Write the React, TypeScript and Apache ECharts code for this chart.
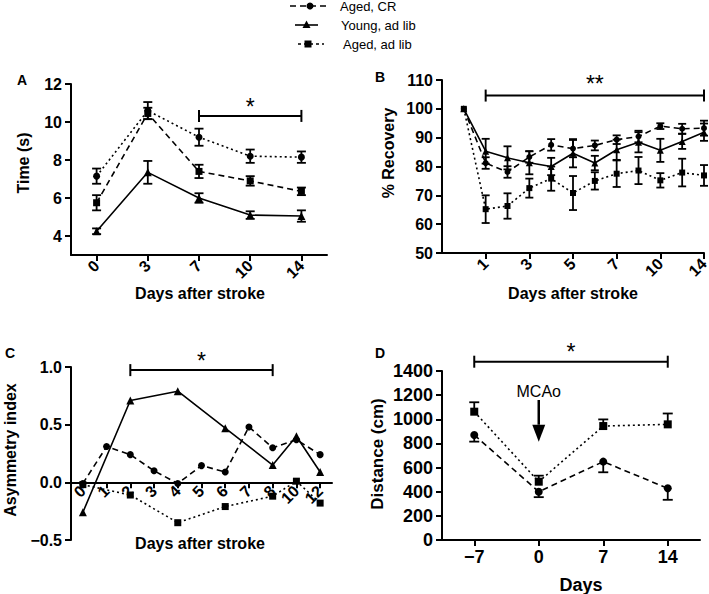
import React, { useEffect, useRef } from 'react';
import * as echarts from 'echarts';

const FONT = "'Liberation Sans', Arial, Helvetica, sans-serif";
const INK = '#000';

// ---------- legend ----------
const legendLabels = ['Aged, CR', 'Young, ad lib', 'Aged, ad lib'];

// ---------- Panel A : Time (s) ----------
const aDays = ['0', '3', '7', '10', '14'];
const aTop = [7.15, 10.6, 9.2, 8.2, 8.15]; // dotted, circles
const aTopErr = [0.4, 0.45, 0.45, 0.35, 0.3];
const aMid = [5.75, 10.45, 7.4, 6.9, 6.35]; // dashed, squares
const aMidErr = [0.4, 0.3, 0.35, 0.25, 0.2];
const aYoung = [4.25, 7.35, 6.0, 5.1, 5.05]; // solid, triangles
const aYoungErr = [0.15, 0.6, 0.25, 0.2, 0.3];
const aTickValues = [4, 6, 8, 10, 12];

// ---------- Panel B : % Recovery ----------
const bDays = ['0', '1', '2', '3', '4', '5', '6', '7', '8', '10', '12', '14'];
const bShown = ['1', '3', '5', '7', '10', '14'];
const bCR = [100, 81.2, 78.1, 83.3, 87.5, 86.2, 87.3, 89.3, 90.4, 94.0, 93.1, 93.3];
const bCRErr = [0, 2, 2, 2, 2, 3, 1.7, 1.5, 2, 1, 1.7, 2.6];
const bYoung = [100, 85.3, 83.0, 81.3, 80.0, 84.6, 81.2, 85.8, 88.4, 85.6, 88.7, 91.9];
const bYoungErr = [0, 4.3, 4, 4, 3, 4.9, 2.5, 3.5, 3.5, 4, 2.6, 3];
const bAdLib = [100, 65.2, 66.3, 72.5, 75.8, 70.8, 75.0, 77.5, 78.6, 75.2, 77.9, 76.9];
const bAdLibErr = [0, 4.8, 4.4, 3.3, 4.2, 5.9, 3, 4.6, 4.7, 2.5, 4.8, 3.6];

// ---------- Panel C : Asymmetry index ----------
const cDays = ['0', '1', '2', '3', '4', '5', '6', '7', '8', '10', '12'];
const cCR = [-0.01, 0.31, 0.24, 0.1, -0.01, 0.145, 0.09, 0.48, 0.3, 0.37, 0.24];
const cYoung = [-0.26, null, 0.71, null, 0.79, null, 0.47, null, 0.15, 0.4, 0.09];
const cAdLib = [-0.02, null, -0.11, null, -0.35, null, -0.21, null, -0.12, 0.01, -0.18];

// ---------- Panel D : Distance (cm) ----------
const dDays = ['\u22127', '0', '7', '14'];
const dAdLib = [1063, 483, 944, 958];
const dAdLibErrUp = [78, 50, 55, 90];
const dCR = [870, 400, 649, 428];
const dCRErrDown = [55, 45, 88, 95];

// ---------- significance brackets: [fromIndex, y, toIndex] ----------
const sigA = [2, 10.32, 4];
const sigB = [2, 104.6, 12];
const sigC = [2, 0.973, 8];
const sigD = [0, 1477, 3];
const sigLabels = ['*', '**', '*', '*'];

// ---------- MCAo arrow: [xIndex, textY, lineTop, tip, headBase] ----------
const mcao = [1, 1229, 1160, 814, 955];

function errData(vals: (number | null)[], up: number[], down: number[], offset = 0) {
  const out: number[][] = [];
  vals.forEach((v, i) => {
    if (v == null) return;
    const u = up[i] || 0;
    const d = down[i] || 0;
    if (!u && !d) return;
    out.push([i + offset, v, u, d]);
  });
  return out;
}

const errSeries = (ax: number, data: number[][], cap = 4.5) => ({
  type: 'custom',
  xAxisIndex: ax,
  yAxisIndex: ax,
  data,
  silent: true,
  clip: false,
  z: 3,
  renderItem: (_p: any, api: any) => {
    const x = api.value(0);
    const y = api.value(1);
    const up = api.value(2);
    const dn = api.value(3);
    const t = api.coord([x, y + up]);
    const b = api.coord([x, y - dn]);
    const st = { stroke: INK, lineWidth: 1.8 };
    const ch: any[] = [{ type: 'line', shape: { x1: t[0], y1: t[1], x2: b[0], y2: b[1] }, style: st }];
    if (up > 0) ch.push({ type: 'line', shape: { x1: t[0] - cap, y1: t[1], x2: t[0] + cap, y2: t[1] }, style: st });
    if (dn > 0) ch.push({ type: 'line', shape: { x1: b[0] - cap, y1: b[1], x2: b[0] + cap, y2: b[1] }, style: st });
    return { type: 'group', children: ch };
  },
});

const sigSeries = (ax: number, item: number[], label: string, lift = 9, fontSize = 23) => ({
  type: 'custom',
  xAxisIndex: ax,
  yAxisIndex: ax,
  data: [item],
  silent: true,
  clip: false,
  z: 5,
  renderItem: (_p: any, api: any) => {
    const p1 = api.coord([api.value(0), api.value(1)]);
    const p2 = api.coord([api.value(2), api.value(1)]);
    const st = { stroke: INK, lineWidth: 2 };
    return {
      type: 'group',
      children: [
        { type: 'line', shape: { x1: p1[0], y1: p1[1], x2: p2[0], y2: p2[1] }, style: st },
        { type: 'line', shape: { x1: p1[0], y1: p1[1] - 6, x2: p1[0], y2: p1[1] + 6 }, style: st },
        { type: 'line', shape: { x1: p2[0], y1: p2[1] - 6, x2: p2[0], y2: p2[1] + 6 }, style: st },
        {
          type: 'text',
          x: (p1[0] + p2[0]) / 2,
          y: p1[1] - lift,
          style: { text: label, fontSize, fontFamily: FONT, fill: INK, align: 'center', verticalAlign: 'middle' },
        },
      ],
    };
  },
});

const lineSeries = (ax: number, name: string, data: (number | null)[], symbol: string, size: number, dash: any) => ({
  type: 'line',
  name,
  xAxisIndex: ax,
  yAxisIndex: ax,
  data,
  symbol,
  symbolSize: size,
  connectNulls: true,
  silent: true,
  z: 4,
  itemStyle: { color: INK },
  lineStyle: { color: INK, width: 1.6, type: dash },
});

const DASHED = [6, 4];
const DOTTED = [2, 3];

function yAxis(grid: number, min: number, max: number, interval: number, fontSize: number, extra: any = {}) {
  return {
    type: 'value',
    gridIndex: grid,
    min,
    max,
    interval,
    axisLine: { show: true, lineStyle: { color: INK, width: 2 } },
    axisTick: { show: true, length: 6, lineStyle: { color: INK, width: 2 }, ...(extra.tick || {}) },
    axisLabel: {
      color: INK,
      fontWeight: 'bold',
      fontSize,
      fontFamily: FONT,
      margin: 9,
      formatter: (v: number) => String(v),
      ...(extra.label || {}),
    },
    splitLine: { show: false },
  };
}

function xAxis(grid: number, data: string[], fontSize: number, extra: any = {}) {
  return {
    type: 'category',
    gridIndex: grid,
    data,
    offset: extra.offset || 0,
    boundaryGap: extra.boundaryGap !== undefined ? extra.boundaryGap : true,
    axisLine: { show: true, onZero: false, lineStyle: { color: INK, width: 2 } },
    axisTick: { show: true, length: 6, alignWithLabel: true, interval: 0, lineStyle: { color: INK, width: 2 }, ...(extra.tick || {}) },
    axisLabel: {
      color: INK,
      fontWeight: 'bold',
      fontSize,
      fontFamily: FONT,
      margin: 8,
      interval: 0,
      ...(extra.label || {}),
    },
    splitLine: { show: false },
  };
}

function txt(text: string, x: number, y: number, fontSize: number, opts: any = {}) {
  return {
    type: 'text',
    x,
    y,
    rotation: opts.rotation || 0,
    silent: true,
    style: {
      text,
      fontSize,
      fontFamily: FONT,
      fontWeight: opts.weight || 'bold',
      fill: INK,
      align: opts.align || 'center',
      verticalAlign: 'middle',
    },
  };
}

function legendGraphic() {
  const rows = [
    { y: 6, x1: 290, x2: 327, mx: 310, dash: DASHED, sym: 'circle', tx: 340 },
    { y: 25, x1: 295, x2: 318, mx: 306.5, dash: null, sym: 'triangle', tx: 341 },
    { y: 44, x1: 298, x2: 324, mx: 308, dash: [3, 3], sym: 'rect', tx: 343 },
  ];
  const els: any[] = [];
  rows.forEach((r, i) => {
    els.push({
      type: 'line',
      silent: true,
      shape: { x1: r.x1, y1: r.y, x2: r.x2, y2: r.y },
      style: { stroke: INK, lineWidth: 1.6, lineDash: r.dash || undefined },
    });
    if (r.sym === 'circle') els.push({ type: 'circle', silent: true, shape: { cx: r.mx, cy: r.y, r: 3.5 }, style: { fill: INK } });
    if (r.sym === 'triangle')
      els.push({
        type: 'polygon',
        silent: true,
        shape: { points: [[r.mx, r.y - 4.5], [r.mx + 4, r.y + 3], [r.mx - 4, r.y + 3]] },
        style: { fill: INK },
      });
    if (r.sym === 'rect') els.push({ type: 'rect', silent: true, shape: { x: r.mx - 3.5, y: r.y - 3.5, width: 7, height: 7 }, style: { fill: INK } });
    els.push(txt(legendLabels[i], r.tx, r.y, 13, { weight: 'normal', align: 'left' }));
  });
  return els;
}

const bAxisData = ['', ...bDays];
const bShowFn = (_i: number, v: string) => bShown.indexOf(v) >= 0;

// panel C grid geometry: zero line sits (max / (max - min)) of the height below the top
const C_TOP = 367;
const C_HEIGHT = 173;
const C_MIN = -0.5;
const C_MAX = 1;
const cZeroOffset = -C_HEIGHT * (0 - C_MIN) / (C_MAX - C_MIN);

export default function App() {
  const ref = useRef<HTMLDivElement>(null);

  useEffect(() => {
    if (!ref.current) return;
    const chart = echarts.init(ref.current, undefined, { renderer: 'svg' });

    const option: any = {
      animation: false,
      backgroundColor: '#fff',
      grid: [
        { left: 71, top: 84, width: 256, height: 171, containLabel: false, outerBoundsMode: 'none' },
        { left: 442, top: 80, width: 262, height: 173, containLabel: false, outerBoundsMode: 'none' },
        { left: 71, top: C_TOP, width: 261, height: C_HEIGHT, containLabel: false, outerBoundsMode: 'none' },
        { left: 442, top: 371, width: 258, height: 169, containLabel: false, outerBoundsMode: 'none' },
      ],
      xAxis: [
        xAxis(0, aDays, 16, { label: { rotate: 45 } }),
        xAxis(1, bAxisData, 16, {
          boundaryGap: false,
          label: { rotate: 45, interval: bShowFn },
          tick: { interval: bShowFn, alignWithLabel: false },
        }),
        xAxis(2, cDays, 16, { offset: cZeroOffset, label: { rotate: 45, margin: 6 } }),
        xAxis(3, dDays, 18, {}),
      ],
      yAxis: [
        yAxis(0, 3, 12, 1, 16, { label: { customValues: aTickValues }, tick: { customValues: aTickValues } }),
        yAxis(1, 50, 110, 10, 16),
        yAxis(2, C_MIN, C_MAX, 0.5, 16, { label: { formatter: (v: number) => v.toFixed(1).replace('-', '\u2212') } }),
        yAxis(3, 0, 1400, 200, 18),
      ],
      series: [
        // Panel A
        lineSeries(0, 'Aged, ad lib', aTop, 'circle', 7, DOTTED),
        lineSeries(0, 'Aged, CR', aMid, 'rect', 7, DASHED),
        lineSeries(0, 'Young, ad lib', aYoung, 'triangle', 8, 'solid'),
        errSeries(0, errData(aTop, aTopErr, aTopErr)),
        errSeries(0, errData(aMid, aMidErr, aMidErr)),
        errSeries(0, errData(aYoung, aYoungErr, aYoungErr)),
        sigSeries(0, sigA, sigLabels[0]),
        // Panel B
        lineSeries(1, 'Aged, CR', [null, ...bCR], 'circle', 6, DASHED),
        lineSeries(1, 'Young, ad lib', [null, ...bYoung], 'triangle', 7, 'solid'),
        lineSeries(1, 'Aged, ad lib', [null, ...bAdLib], 'rect', 6, DOTTED),
        errSeries(1, errData(bCR, bCRErr, bCRErr, 1), 4),
        errSeries(1, errData(bYoung, bYoungErr, bYoungErr, 1), 4),
        errSeries(1, errData(bAdLib, bAdLibErr, bAdLibErr, 1), 4),
        sigSeries(1, sigB, sigLabels[1], 12),
        // Panel C
        lineSeries(2, 'Aged, CR', cCR, 'circle', 7, DASHED),
        lineSeries(2, 'Young, ad lib', cYoung, 'triangle', 8, 'solid'),
        lineSeries(2, 'Aged, ad lib', cAdLib, 'rect', 7, DOTTED),
        sigSeries(2, sigC, sigLabels[2]),
        // Panel D
        lineSeries(3, 'Aged, ad lib', dAdLib, 'rect', 8, DOTTED),
        lineSeries(3, 'Aged, CR', dCR, 'circle', 8, DASHED),
        errSeries(3, errData(dAdLib, dAdLibErrUp, []), 5),
        errSeries(3, errData(dCR, [], dCRErrDown), 5),
        sigSeries(3, sigD, sigLabels[3], 10),
        {
          type: 'custom',
          xAxisIndex: 3,
          yAxisIndex: 3,
          data: [mcao],
          silent: true,
          clip: false,
          z: 5,
          renderItem: (_p: any, api: any) => {
            const x = api.value(0);
            const t = api.coord([x, api.value(1)]);
            const top = api.coord([x, api.value(2)]);
            const tip = api.coord([x, api.value(3)]);
            const base = api.coord([x, api.value(4)]);
            return {
              type: 'group',
              children: [
                {
                  type: 'text',
                  x: t[0],
                  y: t[1],
                  style: { text: 'MCAo', fontSize: 16, fontFamily: FONT, fill: INK, align: 'center', verticalAlign: 'middle' },
                },
                { type: 'line', shape: { x1: top[0], y1: top[1], x2: base[0], y2: base[1] }, style: { stroke: INK, lineWidth: 2.5 } },
                {
                  type: 'polygon',
                  shape: { points: [[tip[0], tip[1]], [base[0] - 6.5, base[1]], [base[0] + 6.5, base[1]]] },
                  style: { fill: INK },
                },
              ],
            };
          },
        },
      ],
      graphic: [
        ...legendGraphic(),
        // panel letters
        txt('A', 22, 80, 14),
        txt('B', 380, 77, 14),
        txt('C', 10, 353, 14),
        txt('D', 380, 353, 14),
        // axis titles
        txt('Time (s)', 23, 163, 16, { rotation: Math.PI / 2 }),
        txt('% Recovery', 388, 153, 16, { rotation: Math.PI / 2 }),
        txt('Asymmetry index', 10, 450, 16, { rotation: Math.PI / 2 }),
        txt('Distance (cm)', 377, 454, 17, { rotation: Math.PI / 2 }),
        txt('Days after stroke', 200, 293, 16),
        txt('Days after stroke', 573, 293, 16),
        txt('Days after stroke', 200, 543, 16),
        txt('Days', 581, 585, 18),
      ],
    };

    chart.setOption(option);
    return () => chart.dispose();
  }, []);

  return <div ref={ref} style={{ position: 'fixed', left: 0, top: 0, width: 709, height: 594, background: '#fff' }} />;
}
